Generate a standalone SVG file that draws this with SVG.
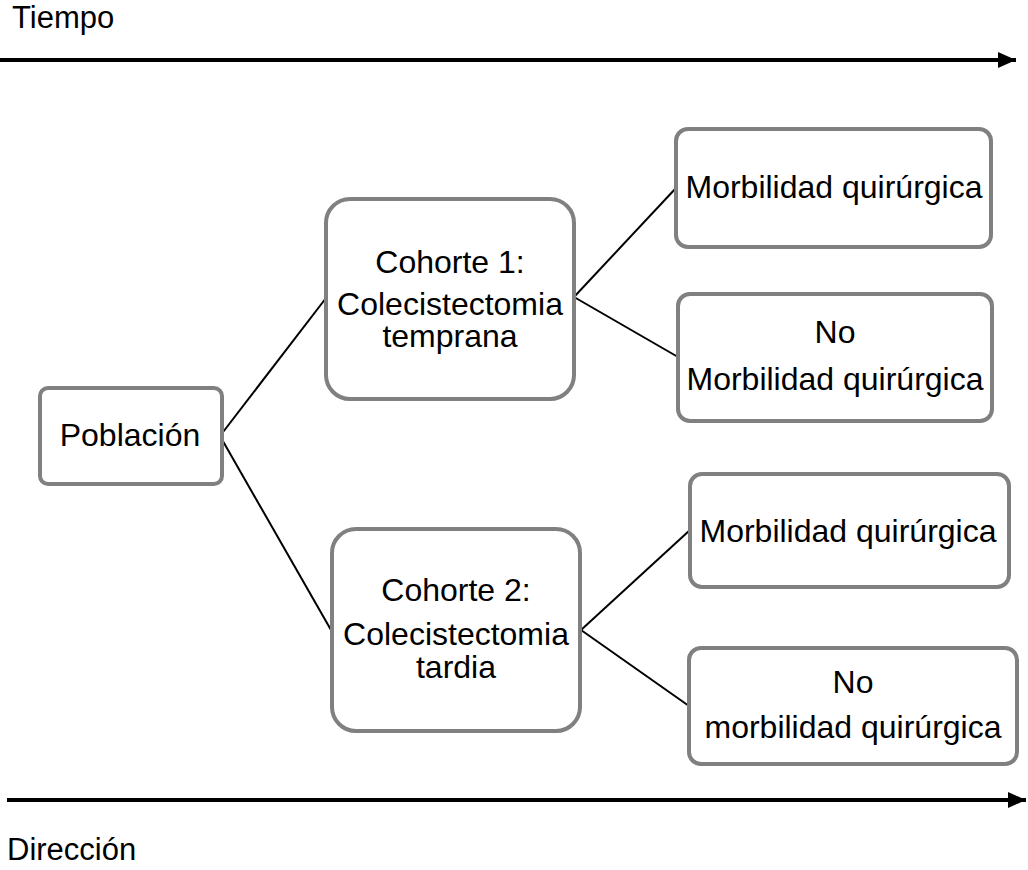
<svg xmlns="http://www.w3.org/2000/svg" width="1028" height="870" viewBox="0 0 1028 870">
<defs>
<marker id="ah" markerWidth="4.5" markerHeight="4" refX="4.5" refY="2" orient="auto" markerUnits="strokeWidth">
<path d="M0,0 L4.5,2 L0,4 Z" fill="#000"/>
</marker>
<style>
.box{fill:#fff;stroke:#808080;stroke-width:4}
.t{font-family:"Liberation Sans",Arial,sans-serif;font-size:32px;fill:#000;text-anchor:middle}
.lbl{font-family:"Liberation Sans",Arial,sans-serif;font-size:31px;fill:#000}
.c{stroke:#000;stroke-width:2;fill:none}
.ax{stroke:#000;stroke-width:4;fill:none}
</style>
</defs>
<rect width="1028" height="870" fill="#fff"/>
<g id="axes">
<line class="ax" x1="0" y1="60" x2="1016" y2="60" marker-end="url(#ah)"/>
<line class="ax" x1="7" y1="800" x2="1026" y2="800" marker-end="url(#ah)"/>
<text class="lbl" x="12" y="28">Tiempo</text>
<text class="lbl" x="7" y="860">Dirección</text>
</g>
<g id="connectors">
<line class="c" x1="220" y1="436" x2="326" y2="298"/>
<line class="c" x1="220" y1="436" x2="331" y2="630"/>
<line class="c" x1="574" y1="297" x2="676" y2="188"/>
<line class="c" x1="574" y1="297" x2="678" y2="357"/>
<line class="c" x1="581" y1="630" x2="690" y2="530"/>
<line class="c" x1="581" y1="630" x2="689" y2="706"/>
</g>
<g id="poblacion">
<rect class="box" x="40" y="388" width="182" height="96" rx="8" stroke-width="3.5"/>
<text class="t" x="130" y="446">Población</text>
</g>
<g id="cohorte1">
<rect class="box" x="326" y="199" width="248" height="200" rx="24"/>
<text class="t" x="450" y="273">Cohorte 1:</text>
<text class="t" x="450" y="315">Colecistectomia</text>
<text class="t" x="450" y="347">temprana</text>
</g>
<g id="cohorte2">
<rect class="box" x="332" y="529" width="248" height="202" rx="24"/>
<text class="t" x="456" y="601">Cohorte 2:</text>
<text class="t" x="456" y="645">Colecistectomia</text>
<text class="t" x="456" y="678">tardia</text>
</g>
<g id="morb1">
<rect class="box" x="676" y="129" width="315" height="118" rx="12"/>
<text class="t" x="834" y="198">Morbilidad quirúrgica</text>
</g>
<g id="nomorb1">
<rect class="box" x="678" y="294" width="314" height="127" rx="12"/>
<text class="t" x="835" y="343">No</text>
<text class="t" x="835" y="390">Morbilidad quirúrgica</text>
</g>
<g id="morb2">
<rect class="box" x="690" y="474" width="319" height="113" rx="12"/>
<text class="t" x="848" y="542">Morbilidad quirúrgica</text>
</g>
<g id="nomorb2">
<rect class="box" x="689" y="648" width="328" height="116" rx="12"/>
<text class="t" x="853" y="693">No</text>
<text class="t" x="853" y="738">morbilidad quirúrgica</text>
</g>
</svg>
